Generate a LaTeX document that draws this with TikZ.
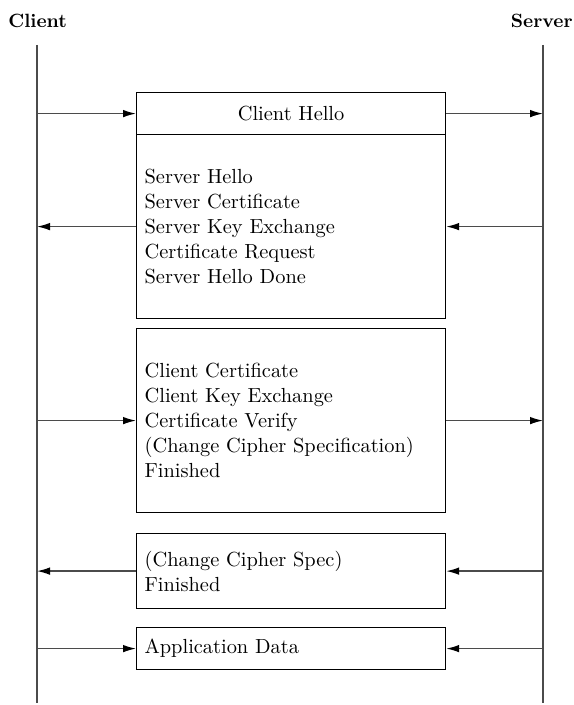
\documentclass[tikz,border=0pt]{standalone}
\usepackage{tikz}
\usetikzlibrary{positioning,calc}
\usetikzlibrary{arrows.meta}
\definecolor{LineGray}{RGB}{75,75,75}
\tikzset{
  msgbox/.style={draw=black,line width=0.6pt,anchor=north west,inner xsep=4pt,inner ysep=0pt,
    text width=146.5pt,align=left,font=\fontsize{10.2}{12.5}\selectfont},
  life/.style={draw=LineGray,line width=0.8pt},
  msg/.style={draw=LineGray,line width=0.7pt,-{Latex[length=6.5pt,width=3.8pt,black]}},
  party/.style={font=\bfseries\fontsize{9.6}{12}\selectfont,inner sep=0pt},
}

\begin{document}
\begin{tikzpicture}[x=0.5pt,y=-0.5pt]
\useasboundingbox (0,0) rectangle (573,705);
% parties and lifelines
\node[party,anchor=west] (client) at (8,21) {Client};
\node[party,anchor=east] (server) at (573,21) {Server};
\coordinate (ct) at (37,45);
\coordinate (cb) at (37,703);
\coordinate (st) at (543,45);
\coordinate (sb) at (543,703);
\draw[life] (ct) -- (cb);
\draw[life] (st) -- (sb);
% message boxes
\node[msgbox,align=center,minimum height=21pt] (hello) at (136,92) {Client Hello};
\node[msgbox,minimum height=92pt] (srv) at (136,134) {Server Hello\\Server Certificate\\Server Key Exchange\\Certificate Request\\Server Hello Done};
\node[msgbox,minimum height=92pt] (cli) at (136,328) {Client Certificate\\Client Key Exchange\\Certificate Verify\\(Change Cipher Specification)\\Finished};
\node[msgbox,minimum height=37.5pt] (ccs) at (136,533) {(Change Cipher Spec)\\Finished};
\node[msgbox,minimum height=21pt] (app) at (136,627) {Application Data};
% arrows
\draw[msg] (ct |- hello.west) -- (hello.west);
\draw[msg] (hello.east) -- (st |- hello.east);
\draw[msg] (srv.west) -- (ct |- srv.west);
\draw[msg] (st |- srv.east) -- (srv.east);
\draw[msg] (ct |- cli.west) -- (cli.west);
\draw[msg] (cli.east) -- (st |- cli.east);
\draw[msg] (ccs.west) -- (ct |- ccs.west);
\draw[msg] (st |- ccs.east) -- (ccs.east);
\draw[msg] (ct |- app.west) -- (app.west);
\draw[msg] (st |- app.east) -- (app.east);
\end{tikzpicture}
\end{document}
